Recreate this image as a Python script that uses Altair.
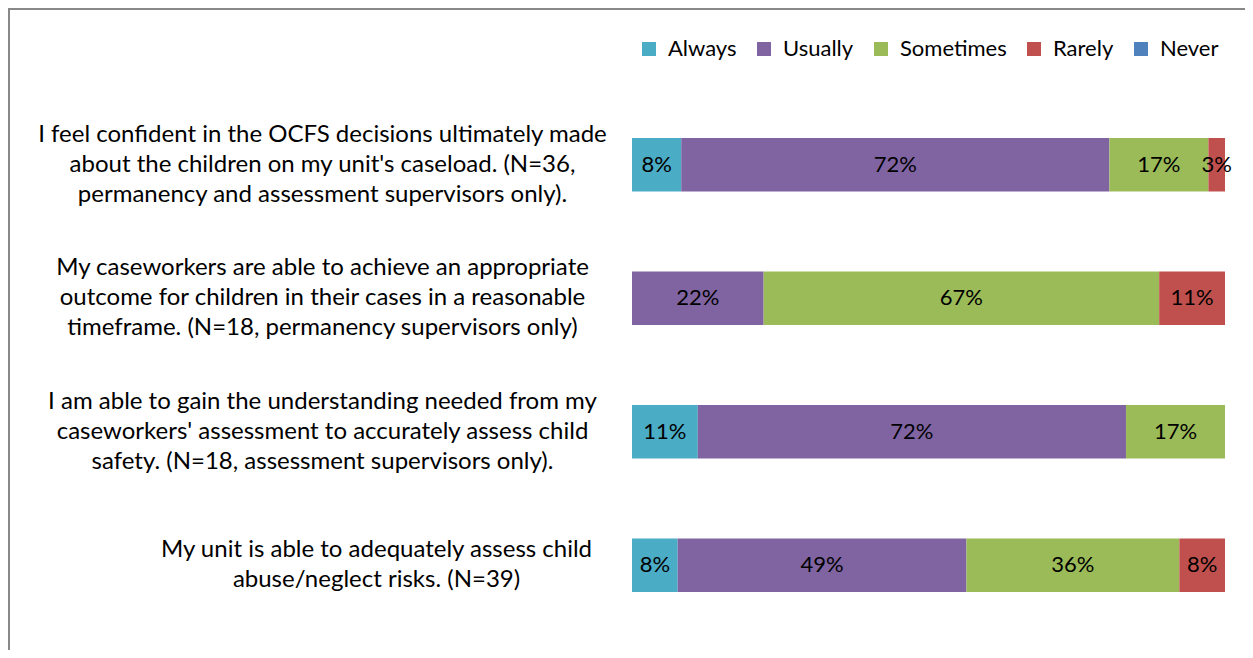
import altair as alt
import pandas as pd

questions = [
    "I feel confident in the OCFS decisions ultimately made|about the children on my unit's caseload. (N=36,|permanency and assessment supervisors only).",
    "My caseworkers are able to achieve an appropriate|outcome for children in their cases in a reasonable|timeframe. (N=18, permanency supervisors only)",
    "I am able to gain the understanding needed from my|caseworkers' assessment to accurately assess child|safety. (N=18, assessment supervisors only).",
    "My unit is able to adequately assess child|abuse/neglect risks. (N=39)",
]
categories = ["Always", "Usually", "Sometimes", "Rarely", "Never"]
colors = ["#4BACC6", "#8064A2", "#9BBB59", "#C0504D", "#4F81BD"]

always = [8.3, 0.0, 11.1, 7.7]
usually = [72.2, 22.2, 72.2, 48.7]
sometimes = [16.7, 66.7, 16.7, 35.9]
rarely = [2.8, 11.1, 0.0, 7.7]
never = [0.0, 0.0, 0.0, 0.0]

series = [always, usually, sometimes, rarely, never]
rows = []
for ci, (cat, vals) in enumerate(zip(categories, series)):
    for q, v in zip(questions, vals):
        rows.append({"question": q, "category": cat, "order": ci, "value": v})
df = pd.DataFrame(rows)

FONT = "Lato"

base = alt.Chart(df).transform_filter("datum.value > 0")

y_enc = alt.Y(
    "question:N",
    sort=questions,
    title=None,
    scale=alt.Scale(paddingInner=0.6, paddingOuter=0.3),
    axis=alt.Axis(
        domain=False,
        ticks=False,
        labelAlign="center",
        labelBaseline="middle",
        labelPadding={"condition": {"test": "indexof(datum.value, 'My unit') == 0", "value": 256}, "value": 310},
        labelOffset={"condition": {"test": "indexof(datum.value, 'My unit') == 0", "value": -15}, "value": -30},
        labelFont=FONT,
        labelFontSize=24,
        labelColor="#000000",
        labelLineHeight=30,
        labelLimit=700,
        labelExpr="split(datum.label, '|')",
    ),
)

bars = base.mark_bar().encode(
    y=y_enc,
    x=alt.X(
        "value:Q",
        stack="zero",
        scale=alt.Scale(domain=[0, 100]),
        axis=None,
    ),
    color=alt.Color(
        "category:N",
        scale=alt.Scale(domain=categories, range=colors),
        sort=categories,
        legend=alt.Legend(
            title=None,
            orient="none",
            direction="horizontal",
            legendX=6,
            legendY=-60,
            symbolType="square",
            symbolSize=196,
            symbolStrokeWidth=0,
            labelFont=FONT,
            labelFontSize=22,
            labelColor="#000000",
            columnPadding=16,
            symbolOffset=0,
            labelOffset=8,
        ),
    ),
    order=alt.Order("order:Q"),
)

labels = base.transform_window(
    cum="sum(value)",
    sort=[alt.SortField("order")],
    groupby=["question"],
    frame=[None, 0],
).transform_calculate(
    mid="datum.cum - datum.value / 2",
    label="format(datum.value / 100, '.0%')",
).mark_text(font=FONT, fontSize=22, color="#000000", baseline="middle").encode(
    y=alt.Y("question:N", sort=questions),
    x=alt.X("mid:Q"),
    text="label:N",
)

border = alt.Chart(pd.DataFrame({"k": [0]})).mark_rule(color="#888888", strokeWidth=2).encode(
    x=alt.value(-623), y=alt.value(-89), y2=alt.value(560)
)
border_top = alt.Chart(pd.DataFrame({"k": [0]})).mark_rule(color="#888888", strokeWidth=2).encode(
    x=alt.value(-624), x2=alt.value(620), y=alt.value(-89)
)

chart = alt.layer(bars, labels, border, border_top).properties(
    width=593,
    height=534,
    padding={"left": 624, "top": 90, "right": 20, "bottom": 18},
    autosize=alt.AutoSizeParams(type="none"),
).configure_view(stroke=None)

chart.save("out.html", embed_options={"renderer": "svg", "actions": False})
